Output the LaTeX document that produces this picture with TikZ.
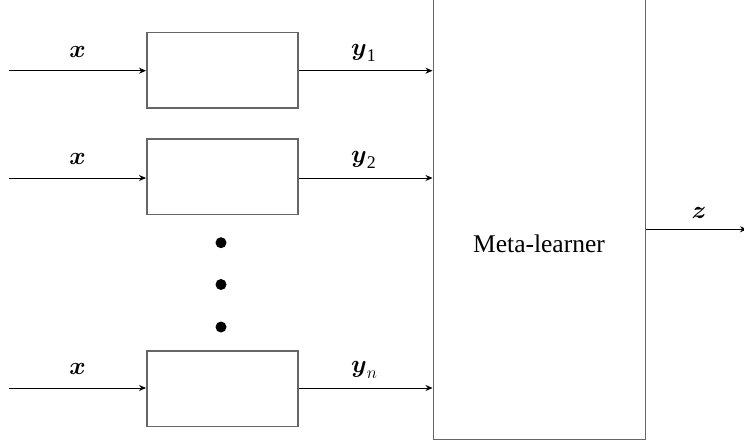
\documentclass[tikz,border=0pt]{standalone}
\usepackage{amsmath}
\usepackage{fontspec}
\setmainfont{Liberation Serif}
\usetikzlibrary{arrows.meta}
\begin{document}
\begin{tikzpicture}[x=1pt,y=-1pt,
  blk/.style={draw=black!60,line width=1.5pt},
  conn/.style={draw=black,line width=0.9pt,-{Stealth[length=7pt,width=6pt]}},
  lbl/.style={font=\fontsize{25.5}{30}\selectfont,inner sep=0pt},
  dotb/.style={circle,fill=black,inner sep=0pt,minimum size=11pt}]
\useasboundingbox (0,0) rectangle (744,446);
\clip (0,0) rectangle (744,446);
% small boxes
\node[blk,minimum width=151pt,minimum height=75.5pt,inner sep=0pt,anchor=north west] (b1) at (146,32) {};
\node[blk,minimum width=151pt,minimum height=75.5pt,inner sep=0pt,anchor=north west] (b2) at (146,138.5) {};
\node[blk,minimum width=151pt,minimum height=75.5pt,inner sep=0pt,anchor=north west] (b3) at (146,350) {};
% big box
\node[blk,minimum width=212pt,minimum height=460pt,inner sep=0pt,anchor=south west] (m) at (432.5,440) {};
\node[font=\fontsize{25.5}{30}\selectfont,inner sep=0pt] (mt) at (539,244) {Meta-learner};
% inputs
\coordinate (i1) at (9,70.7);
\coordinate (i2) at (9,178);
\coordinate (i3) at (9,388);
\draw[conn] (i1) -- (b1.west |- i1);
\draw[conn] (i2) -- (b2.west |- i2);
\draw[conn] (i3) -- (b3.west |- i3);
\node[lbl] (x1) at (77.5,52) {$\boldsymbol{x}$};
\node[lbl] (x2) at (77.5,159) {$\boldsymbol{x}$};
\node[lbl] (x3) at (77.5,369) {$\boldsymbol{x}$};
% outputs
\draw[conn] (b1.east |- i1) -- (m.west |- i1);
\draw[conn] (b2.east |- i2) -- (m.west |- i2);
\draw[conn] (b3.east |- i3) -- (m.west |- i3);
\node[lbl,anchor=west] (y1) at (351,53) {$\boldsymbol{y}_{\mathrm{1}}$};
\node[lbl,anchor=west] (y2) at (351,160) {$\boldsymbol{y}_{\mathrm{2}}$};
\node[lbl,anchor=west] (y3) at (351,370) {$\boldsymbol{y}_{n}$};
% final output
\coordinate (zo) at (747,229.3);
\draw[conn] (m.east |- zo) -- (zo);
\node[lbl] (zl) at (699,213) {$\boldsymbol{z}$};
% dots
\node[dotb] (d1) at (221,242.7) {};
\node[dotb] (d2) at (221,284.5) {};
\node[dotb] (d3) at (221,327) {};
\end{tikzpicture}
\end{document}
